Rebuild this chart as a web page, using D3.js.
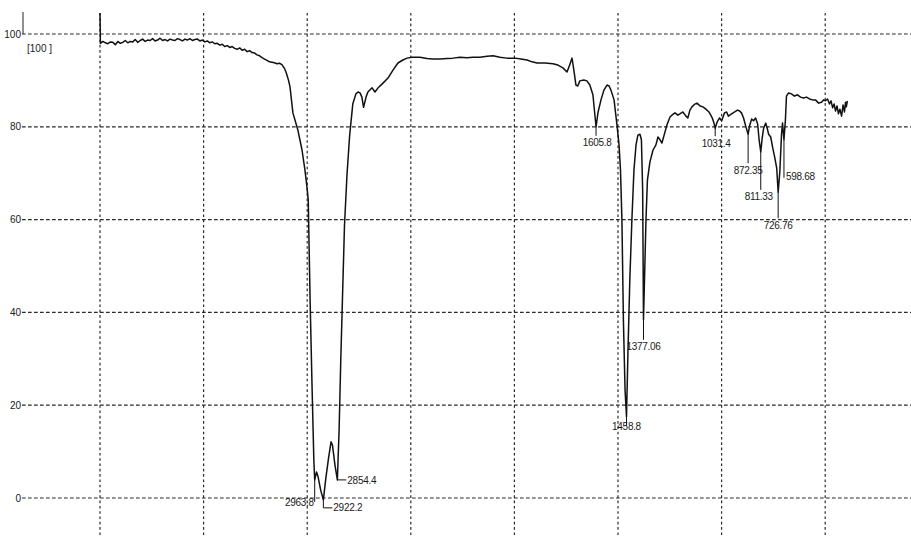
<!DOCTYPE html>
<html>
<head>
<meta charset="utf-8">
<script src="https://cdn.jsdelivr.net/npm/d3@7"></script>
<style>
  body { margin: 0; background: #fff; }
  svg { display: block; }
  text { font-family: "Liberation Sans Narrow", "Arial Narrow", "Liberation Sans", sans-serif; fill: #1a1a1a; }
</style>
</head>
<body>
<script>
// spectrum: wavenumber (cm-1) and %T
const wavenumber = [4000, 3998, 3986, 3974, 3962, 3950, 3938, 3926, 3914, 3902, 3890, 3878, 3866, 3854, 3842, 3830, 3818, 3806, 3794, 3782,
  3770, 3758, 3746, 3734, 3722, 3710, 3698, 3686, 3674, 3662, 3650, 3638, 3626, 3614, 3602, 3590, 3578, 3566, 3554, 3542,
  3530, 3518, 3506, 3494, 3482, 3470, 3458, 3446, 3434, 3422, 3410, 3398, 3386, 3374, 3362, 3350, 3338, 3326, 3314, 3302,
  3290, 3278, 3266, 3254, 3242, 3230, 3218, 3206, 3194, 3182, 3170, 3158, 3146, 3134, 3122, 3110, 3100, 3090, 3083, 3069,
  3045, 3025, 3011, 3001, 2995, 2986, 2977, 2968, 2963.8, 2955, 2948, 2935, 2922, 2910, 2897, 2885, 2878, 2866, 2854.4, 2846,
  2838, 2830, 2820, 2808, 2795, 2780, 2765, 2755, 2745, 2736, 2728, 2716, 2707, 2687, 2673, 2658, 2639, 2610, 2586, 2562,
  2538, 2518, 2494, 2456, 2422, 2393, 2359, 2325, 2296, 2263, 2229, 2200, 2166, 2132, 2103, 2070, 2036, 1997, 1968, 1939,
  1915, 1891, 1852, 1814, 1790, 1766, 1746, 1732, 1722, 1713, 1703, 1694, 1684, 1665, 1650, 1636, 1621, 1613, 1606, 1596,
  1582, 1568, 1553, 1543, 1534, 1519, 1505, 1495, 1488, 1481, 1474, 1466, 1459, 1452, 1443, 1433, 1423, 1413, 1404, 1394,
  1387, 1381, 1377, 1371, 1365, 1358, 1346, 1331, 1317, 1307, 1297, 1288, 1273, 1264, 1249, 1240, 1225, 1211, 1201, 1187,
  1172, 1163, 1153, 1143, 1129, 1119, 1104, 1090, 1076, 1061, 1047, 1038, 1031, 1022, 1010, 1000, 986, 976, 967, 952,
  937, 923, 913, 904, 894, 884, 872, 865, 855, 846, 836, 826, 819, 811, 804, 797, 787, 780, 773, 763,
  753, 744, 734, 727, 719, 711, 706, 699, 692, 687, 677, 663, 648, 634, 619, 605, 590, 576, 561, 547,
  532, 518, 508, 499, 489, 479, 472, 464, 457, 450, 443, 436, 429, 421, 414, 407, 402, 398, 393];

const transmittance = [104.5, 98.0, 98.4, 98.1, 97.9, 98.3, 98.2, 97.7, 98.4, 98.0, 98.2, 98.6, 98.1, 98.4, 98.3, 98.8, 98.2, 98.6, 98.9, 98.4,
  98.7, 98.6, 99.0, 98.5, 98.7, 99.1, 98.6, 98.8, 98.5, 98.9, 98.7, 98.6, 99.0, 98.8, 98.5, 98.9, 98.7, 99.0, 98.6, 98.8,
  98.9, 98.5, 98.7, 98.3, 98.5, 98.1, 98.3, 97.9, 98.0, 97.6, 97.8, 97.3, 97.5, 97.1, 97.3, 96.9, 96.7, 97.0, 96.5, 96.7,
  96.2, 96.4, 96.0, 95.9, 95.5, 95.3, 94.9, 94.6, 94.3, 94.0, 93.9, 93.8, 93.6, 93.7, 93.4, 92.6, 91.5, 90.0, 88.6, 83.0,
  79.3, 75.0, 70.7, 67.0, 64.2, 42.7, 24.8, 8.2, 3.9, 5.6, 4.7, 1.7, -0.4, 4.3, 8.6, 12.1, 11.4, 7.1, 3.9, 14.7,
  29.7, 42.7, 58.8, 69.6, 78.2, 84.9, 87.1, 87.5, 87.3, 86.4, 84.2, 86.4, 87.5, 88.4, 87.5, 88.4, 89.2, 90.5, 92.2, 93.75,
  94.4, 94.8, 95.0, 95.0, 94.7, 94.6, 94.6, 94.7, 94.8, 95.0, 94.9, 95.0, 95.0, 95.2, 95.3, 95.0, 94.8, 94.8, 94.6, 94.4,
  94.0, 93.75, 93.75, 93.6, 93.3, 92.7, 91.8, 93.5, 94.8, 92.2, 89.0, 88.8, 89.9, 90.1, 89.9, 89.0, 86.9, 83.2, 80.0, 83.2,
  85.8, 87.9, 89.0, 88.8, 87.9, 85.8, 80.4, 76.1, 70.7, 59.9, 38.4, 23.3, 17.5, 31.3, 47.0, 59.9, 70.7, 76.1, 78.2, 78.4,
  77.2, 66.4, 38.4, 49.1, 59.9, 68.5, 72.4, 75.0, 76.1, 77.8, 77.2, 76.5, 78.9, 80.4, 82.1, 82.5, 83.0, 82.5, 82.8, 83.2,
  82.3, 81.9, 83.6, 84.3, 84.9, 85.1, 84.5, 84.3, 83.8, 83.2, 82.1, 81.0, 79.7, 81.0, 81.9, 81.3, 83.0, 83.2, 82.3, 82.8,
  83.2, 83.6, 83.4, 83.0, 81.9, 80.2, 78.4, 80.2, 81.7, 81.3, 81.9, 80.6, 77.2, 74.6, 77.6, 79.7, 80.8, 79.7, 78.4, 77.8,
  75.4, 73.5, 71.1, 65.9, 70.3, 78.2, 80.8, 77.2, 81.5, 86.6, 87.3, 87.1, 86.6, 86.9, 86.4, 86.2, 86.4, 86.0, 85.8, 85.8,
  85.1, 85.3, 85.8, 85.6, 86.0, 84.9, 85.6, 84.1, 84.9, 83.4, 84.5, 82.8, 83.8, 82.3, 84.7, 83.2, 85.3, 84.3, 85.6];

// peak annotations
const peakLabels = ["2963.8", "2922.2", "2854.4", "1605.8", "1458.8", "1377.06", "1031.4", "872.35", "811.33", "726.76", "598.68"];
const peakWn = [2963.8, 2922, 2854.4, 1606, 1459, 1377, 1031, 872, 811, 727, 699];

const yTicks = [0, 20, 40, 60, 80, 100];
const xGrid = [4000, 3500, 3000, 2500, 2000, 1500, 1000, 500];

// where each label sits relative to its peak (px)
const labelLayout = {
  "2963.8": { path: [[0, 22]], tx: -1, ty: 23, anchor: "end" },
  "2922.2": { path: [[0, 8], [9, 8]], tx: 10, ty: 8, anchor: "start" },
  "2854.4": { path: [[9, 0]], tx: 10, ty: 1, anchor: "start" },
  "1605.8": { path: [[0, 9]], tx: 1, ty: 16, anchor: "middle" },
  "1458.8": { path: [[0, 9]], tx: 0, ty: 10, anchor: "middle" },
  "1377.06": { path: [[0, 20]], tx: 0, ty: 27, anchor: "middle" },
  "1031.4": { path: [[0, 8]], tx: 1, ty: 15, anchor: "middle" },
  "872.35": { path: [[0, 29]], tx: 0, ty: 36, anchor: "middle" },
  "811.33": { path: [[0, 38]], tx: -2, ty: 45, anchor: "middle" },
  "726.76": { path: [[0, 26]], tx: 0, ty: 33, anchor: "middle" },
  "598.68": { path: [[0, 38]], tx: 2, ty: 37, anchor: "start" }
};

const W = 911, H = 537;
const svg = d3.select("body").append("svg").attr("width", W).attr("height", H);

const x = d3.scaleLinear().domain([4000, 500]).range([100, 825.2]);
const y = d3.scaleLinear().domain([0, 100]).range([498, 34]);

// grid
svg.append("g").selectAll("line").data(yTicks).join("line")
  .attr("x1", 22).attr("x2", W)
  .attr("y1", d => y(d)).attr("y2", d => y(d))
  .attr("stroke", "#2a2a2a").attr("stroke-width", 1.2)
  .attr("stroke-dasharray", "3.7,2.3");

svg.append("g").selectAll("line").data(xGrid).join("line")
  .attr("x1", d => x(d)).attr("x2", d => x(d))
  .attr("y1", 13).attr("y2", H)
  .attr("stroke", "#2a2a2a").attr("stroke-width", 1.2)
  .attr("stroke-dasharray", "2.6,2.7");

// y labels
svg.append("g").selectAll("text").data(yTicks).join("text")
  .attr("x", 21).attr("y", d => y(d))
  .attr("dy", "0.35em")
  .attr("text-anchor", "end")
  .attr("font-size", 10)
  .text(d => d);

svg.append("line").attr("x1", 23).attr("x2", 23).attr("y1", 12).attr("y2", y(100))
  .attr("stroke", "#222").attr("stroke-width", 1);
svg.append("text").attr("x", 27).attr("y", 48).attr("dy", "0.35em")
  .attr("font-size", 10).text("[100 ]");

// spectrum
const pts = wavenumber.map((w, i) => [w, transmittance[i]]);
svg.append("path").datum(pts)
  .attr("fill", "none").attr("stroke", "#111").attr("stroke-width", 1.5)
  .attr("stroke-linejoin", "round")
  .attr("d", d3.line().x(d => x(d[0])).y(d => y(d[1])));

// peak labels
const tAt = w => transmittance[wavenumber.indexOf(w)];
peakLabels.forEach((lab, i) => {
  const px = x(peakWn[i]), py = y(tAt(peakWn[i]));
  const L = labelLayout[lab];
  const p = d3.path();
  p.moveTo(px, py);
  L.path.forEach(q => p.lineTo(px + q[0], py + q[1]));
  svg.append("path").attr("d", p.toString())
    .attr("fill", "none").attr("stroke", "#111").attr("stroke-width", 1);
  svg.append("text").attr("x", px + L.tx).attr("y", py + L.ty)
    .attr("dy", "0.35em").attr("text-anchor", L.anchor)
    .attr("font-size", 10).attr("letter-spacing", -0.3)
    .text(lab);
});
</script>
</body>
</html>
